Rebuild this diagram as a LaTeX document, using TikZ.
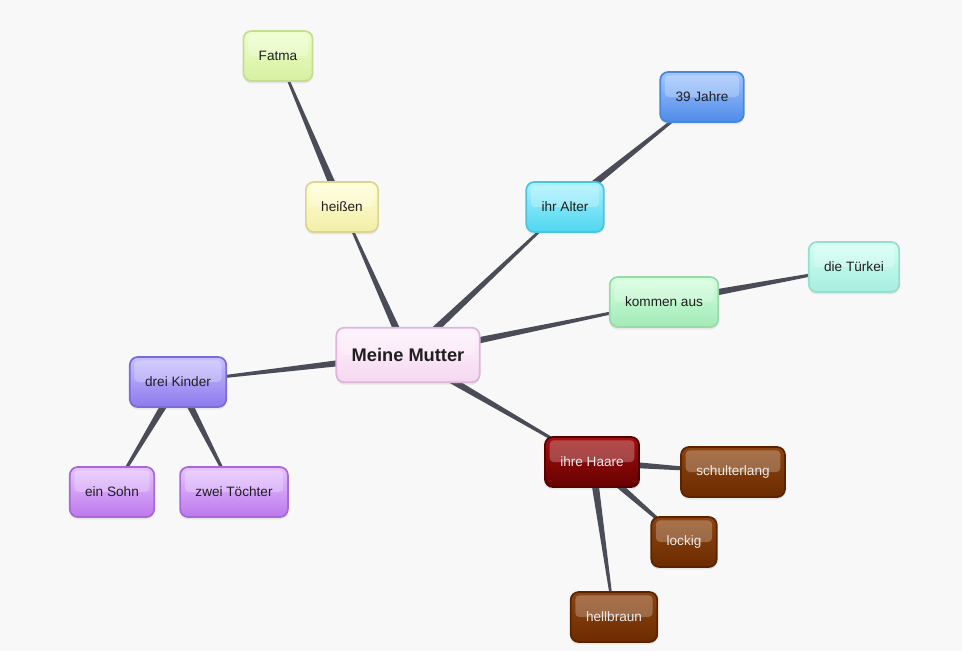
\documentclass[tikz,border=0pt]{standalone}
\usepackage{fontspec}
\setmainfont{Liberation Sans}
\usetikzlibrary{calc,backgrounds,shadows}

\definecolor{bgcol}{HTML}{F8F8F8}
\definecolor{linkcol}{HTML}{4A4D57}
% border, top and bottom of each kind of box
\definecolor{pinkB}{HTML}{DDB6D8}\definecolor{pinkT}{HTML}{FFF2FD}\definecolor{pinkL}{HTML}{F5D8F0}
\definecolor{yelB}{HTML}{DAD592}\definecolor{yelT}{HTML}{FFFFD6}\definecolor{yelL}{HTML}{F2EEA8}
\definecolor{limeB}{HTML}{C2DE8E}\definecolor{limeT}{HTML}{EEFFCC}\definecolor{limeL}{HTML}{D5F0A0}
\definecolor{cyanB}{HTML}{4CC4E0}\definecolor{cyanT}{HTML}{A8F2FF}\definecolor{cyanL}{HTML}{4FD6EF}
\definecolor{blueB}{HTML}{4A86DA}\definecolor{blueT}{HTML}{A2C6FF}\definecolor{blueL}{HTML}{4F8BE8}
\definecolor{mintB}{HTML}{98DAAA}\definecolor{mintT}{HTML}{D4FFDE}\definecolor{mintL}{HTML}{A2EAB6}
\definecolor{aquaB}{HTML}{98DDCD}\definecolor{aquaT}{HTML}{D2FFF4}\definecolor{aquaL}{HTML}{A6EEDE}
\definecolor{violB}{HTML}{7A6ADA}\definecolor{violT}{HTML}{C8BFFF}\definecolor{violL}{HTML}{8C7AEC}
\definecolor{lilaB}{HTML}{A868D8}\definecolor{lilaT}{HTML}{E6C4FF}\definecolor{lilaL}{HTML}{BC78EC}
\definecolor{redB}{HTML}{560000}\definecolor{redT}{HTML}{A01010}\definecolor{redL}{HTML}{680000}
\definecolor{brownB}{HTML}{5A2400}\definecolor{brownT}{HTML}{8C4410}\definecolor{brownL}{HTML}{6C2C00}

% tapered link: wide at the parent #1, narrow at the child #2
\newcommand{\branch}[2]{%
  \fill[linkcol] ($(#1)!3pt!90:(#2)$) -- ($(#2)!0.6pt!-90:(#1)$)
    -- ($(#2)!0.6pt!90:(#1)$) -- ($(#1)!3pt!-90:(#2)$) -- cycle;}

\begin{document}
\begin{tikzpicture}[x=0.75pt, y=-0.75pt,
    box/.style={rounded corners=6pt, draw=#1B, line width=1.3pt,
      top color=#1T, bottom color=#1L, text=black!88,
      minimum height=37.5pt, inner xsep=11.5pt, font=\fontsize{10.2}{12}\selectfont,
      drop shadow={opacity=0.15, shadow xshift=0pt, shadow yshift=-1.8pt},
      path picture={\fill[white, opacity=0.25, rounded corners=3pt]
        ([shift={(3.5pt,-2.5pt)}]path picture bounding box.north west) rectangle
        ([shift={(-3.5pt,0pt)}]path picture bounding box.east);}},
    darkbox/.style={box=#1, text=white!92!black}]

    \node[box=pink, minimum height=41pt,
      font=\fontsize{13.7}{16}\selectfont\bfseries] (mutter) at (408,355) {Meine Mutter};

    \node[box=yel] (heissen) at (342,207) {heißen};
    \node[box=lime] (fatma) at (278,56) {Fatma};
    \node[box=cyan] (alter) at (565,207) {ihr Alter};
    \node[box=blue] (jahre) at (702,97) {39 Jahre};
    \node[box=mint] (kommen) at (664,302) {kommen aus};
    \node[box=aqua] (tuerkei) at (854,267) {die Türkei};
    \node[box=viol] (kinder) at (178,382) {drei Kinder};
    \node[box=lila] (sohn) at (112,492) {ein Sohn};
    \node[box=lila] (toechter) at (234,492) {zwei Töchter};
    \node[darkbox=red] (haare) at (592,462) {ihre Haare};
    \node[darkbox=brown] (schulter) at (733,472) {schulterlang};
    \node[darkbox=brown] (lockig) at (684,542) {lockig};
    \node[darkbox=brown] (hell) at (614,617) {hellbraun};

    \begin{scope}[on background layer]
        \fill[bgcol] (0,0) rectangle (962,651);
        \branch{mutter}{heissen}
        \branch{heissen}{fatma}
        \branch{mutter}{alter}
        \branch{alter}{jahre}
        \branch{mutter}{kommen}
        \branch{kommen}{tuerkei}
        \branch{mutter}{kinder}
        \branch{kinder}{sohn}
        \branch{kinder}{toechter}
        \branch{mutter}{haare}
        \branch{haare}{schulter}
        \branch{haare}{lockig}
        \branch{haare}{hell}
    \end{scope}

\end{tikzpicture}
\end{document}
